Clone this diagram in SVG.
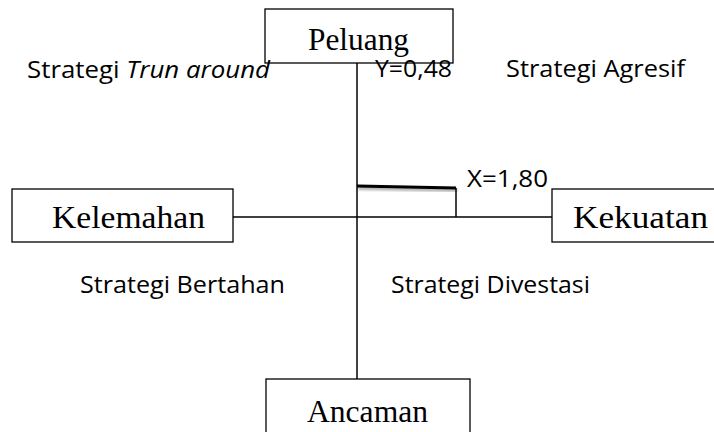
<svg xmlns="http://www.w3.org/2000/svg" width="714" height="432" viewBox="0 0 714 432">
<style>
.box{fill:#fff;stroke:#000;stroke-width:1.3}
.lbl{font-family:"Liberation Serif","Times New Roman",serif;font-size:32px;fill:#000}
.txt{font-family:"Open Sans","Liberation Sans",sans-serif;font-size:24px;fill:#000}
.ln{stroke:#000;stroke-width:1.5;fill:none}
</style>
<defs>
<filter id="sh" x="-10%" y="-200%" width="120%" height="500%">
<feGaussianBlur in="SourceAlpha" stdDeviation="1.5"/>
<feOffset dx="1" dy="2"/>
<feComponentTransfer><feFuncA type="linear" slope="0.4"/></feComponentTransfer>
<feMerge><feMergeNode/><feMergeNode in="SourceGraphic"/></feMerge>
</filter>
</defs>
<g id="connectors">
<line class="ln" x1="357" y1="63" x2="357" y2="379"/>
<line class="ln" x1="233" y1="217" x2="552" y2="217"/>
<line class="ln" x1="456" y1="188" x2="456" y2="217"/>
<line x1="357" y1="186" x2="456" y2="188" stroke="#000" stroke-width="3" filter="url(#sh)"/>
</g>
<g id="peluang">
<rect class="box" x="265" y="9" width="188" height="54"/>
<text class="lbl" x="308" y="50" textLength="101" lengthAdjust="spacingAndGlyphs">Peluang</text>
</g>
<g id="kelemahan">
<rect class="box" x="12" y="189" width="221" height="53"/>
<text class="lbl" x="52" y="228" textLength="153" lengthAdjust="spacingAndGlyphs">Kelemahan</text>
</g>
<g id="kekuatan">
<rect class="box" x="552" y="189" width="170" height="53"/>
<text class="lbl" x="573" y="228" textLength="135" lengthAdjust="spacingAndGlyphs">Kekuatan</text>
</g>
<g id="ancaman">
<rect class="box" x="266" y="379" width="204" height="60"/>
<text class="lbl" x="307" y="422" textLength="121" lengthAdjust="spacingAndGlyphs">Ancaman</text>
</g>
<g id="labels">
<text class="txt" x="27" y="78" textLength="243" lengthAdjust="spacingAndGlyphs">Strategi <tspan font-style="italic">Trun around</tspan></text>
<text class="txt" x="375" y="77" textLength="77" lengthAdjust="spacingAndGlyphs">Y=0,48</text>
<text class="txt" x="506" y="77" textLength="179" lengthAdjust="spacingAndGlyphs">Strategi Agresif</text>
<text class="txt" x="467" y="187" textLength="81" lengthAdjust="spacingAndGlyphs">X=1,80</text>
<text class="txt" x="80" y="293" textLength="205" lengthAdjust="spacingAndGlyphs">Strategi Bertahan</text>
<text class="txt" x="391" y="293" textLength="199" lengthAdjust="spacingAndGlyphs">Strategi Divestasi</text>
</g>
</svg>
